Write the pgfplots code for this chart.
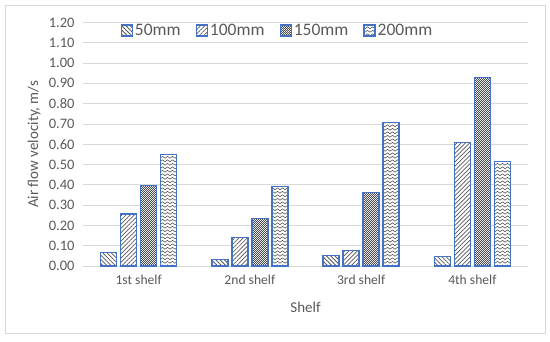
\documentclass[border=0pt]{standalone}
\usepackage{pgfplots}
\pgfplotsset{compat=1.18}
\usepackage{fontspec}
\setmainfont{Carlito}
\usetikzlibrary{patterns,patterns.meta}

\definecolor{edge}{RGB}{68,114,196}
\definecolor{txt}{RGB}{89,89,89}
\definecolor{gridc}{RGB}{217,217,217}
\definecolor{pat}{RGB}{85,85,85}
\definecolor{patdark}{RGB}{75,75,75}

% wavy fill for the 200mm bars
\pgfdeclarepatternformonly{zigzag}{\pgfpoint{-0.5pt}{-0.5pt}}{\pgfpoint{5.5pt}{4pt}}{\pgfpoint{5pt}{3.5pt}}{
  \pgfsetlinewidth{0.6pt}
  \pgfpathmoveto{\pgfpoint{0pt}{0.8pt}}
  \pgfpathlineto{\pgfpoint{2.5pt}{2.6pt}}
  \pgfpathlineto{\pgfpoint{5pt}{0.8pt}}
  \pgfusepath{stroke}}
% small checkerboard for the 150mm bars
\pgfdeclarepatternformonly{checker}{\pgfpointorigin}{\pgfpoint{2.4pt}{2.4pt}}{\pgfpoint{2.4pt}{2.4pt}}{
  \pgfpathrectangle{\pgfpointorigin}{\pgfpoint{1.2pt}{1.2pt}}
  \pgfpathrectangle{\pgfpoint{1.2pt}{1.2pt}}{\pgfpoint{1.2pt}{1.2pt}}
  \pgfusepath{fill}}

\begin{document}
\begin{tikzpicture}
\begin{axis}[
  at={(0,0)}, anchor=south west,
  scale only axis, width=445pt, height=243.6pt,
  ybar=4pt, bar width=16pt,
  xmin=-0.5, xmax=3.5, ymin=0, ymax=1.2,
  xtick=data, xticklabels={1st shelf,2nd shelf,3rd shelf,4th shelf},
  ytick={0,0.1,0.2,0.3,0.4,0.5,0.6,0.7,0.8,0.9,1.0,1.1,1.2},
  yticklabel style={font=\fontsize{14.5}{16}\selectfont, text=txt,
    /pgf/number format/.cd, fixed, fixed zerofill, precision=2, assume math mode=true},
  xticklabel style={font=\fontsize{13.6}{15}\selectfont, text=txt},
  major tick length=0pt,
  yticklabel shift=5pt, xticklabel shift=6pt,
  ymajorgrids, grid style={draw=gridc, line width=0.8pt},
  axis x line*=bottom, axis y line*=left,
  x axis line style={draw=gridc, line width=0.8pt},
  y axis line style={draw=none},
  xlabel={Shelf}, ylabel={Air flow velocity, m/s},
  label style={font=\fontsize{15}{17}\selectfont, text=txt},
  xlabel style={at={(axis description cs:0.5,-0.168)}, anchor=center},
  ylabel style={at={(axis description cs:-0.110,0.5)}, anchor=center},
  legend columns=4,
  legend style={at={(0.437,0.967)}, anchor=center, draw=none, fill=none,
    font=\fontsize{17.5}{19}\selectfont, text=txt,
    /tikz/every even column/.append style={column sep=13pt}},
  legend image code/.code={\draw[#1] (0pt,-5.5pt) rectangle (11pt,5.5pt);},
  every axis plot/.append style={draw=edge, line width=1.3pt, fill=white},
]
\addplot[postaction={pattern={Lines[angle=-45,distance=3pt,line width=0.8pt]}, pattern color=pat}]
  coordinates {(0,0.068) (1,0.033) (2,0.051) (3,0.046)};
\addplot[postaction={pattern={Lines[angle=45,distance=3pt,line width=0.7pt]}, pattern color=pat}]
  coordinates {(0,0.256) (1,0.142) (2,0.077) (3,0.607)};
\addplot[postaction={pattern=checker, pattern color=patdark}]
  coordinates {(0,0.396) (1,0.234) (2,0.362) (3,0.928)};
\addplot[postaction={pattern=zigzag, pattern color=pat}]
  coordinates {(0,0.550) (1,0.392) (2,0.708) (3,0.515)};
\legend{50mm,100mm,150mm,200mm}
\end{axis}
\draw[gridc, line width=0.8pt] (-78pt,-67pt) rectangle (462pt,261pt);
\path (-83pt,-75pt) rectangle (467pt,266pt);
\end{tikzpicture}
\end{document}
